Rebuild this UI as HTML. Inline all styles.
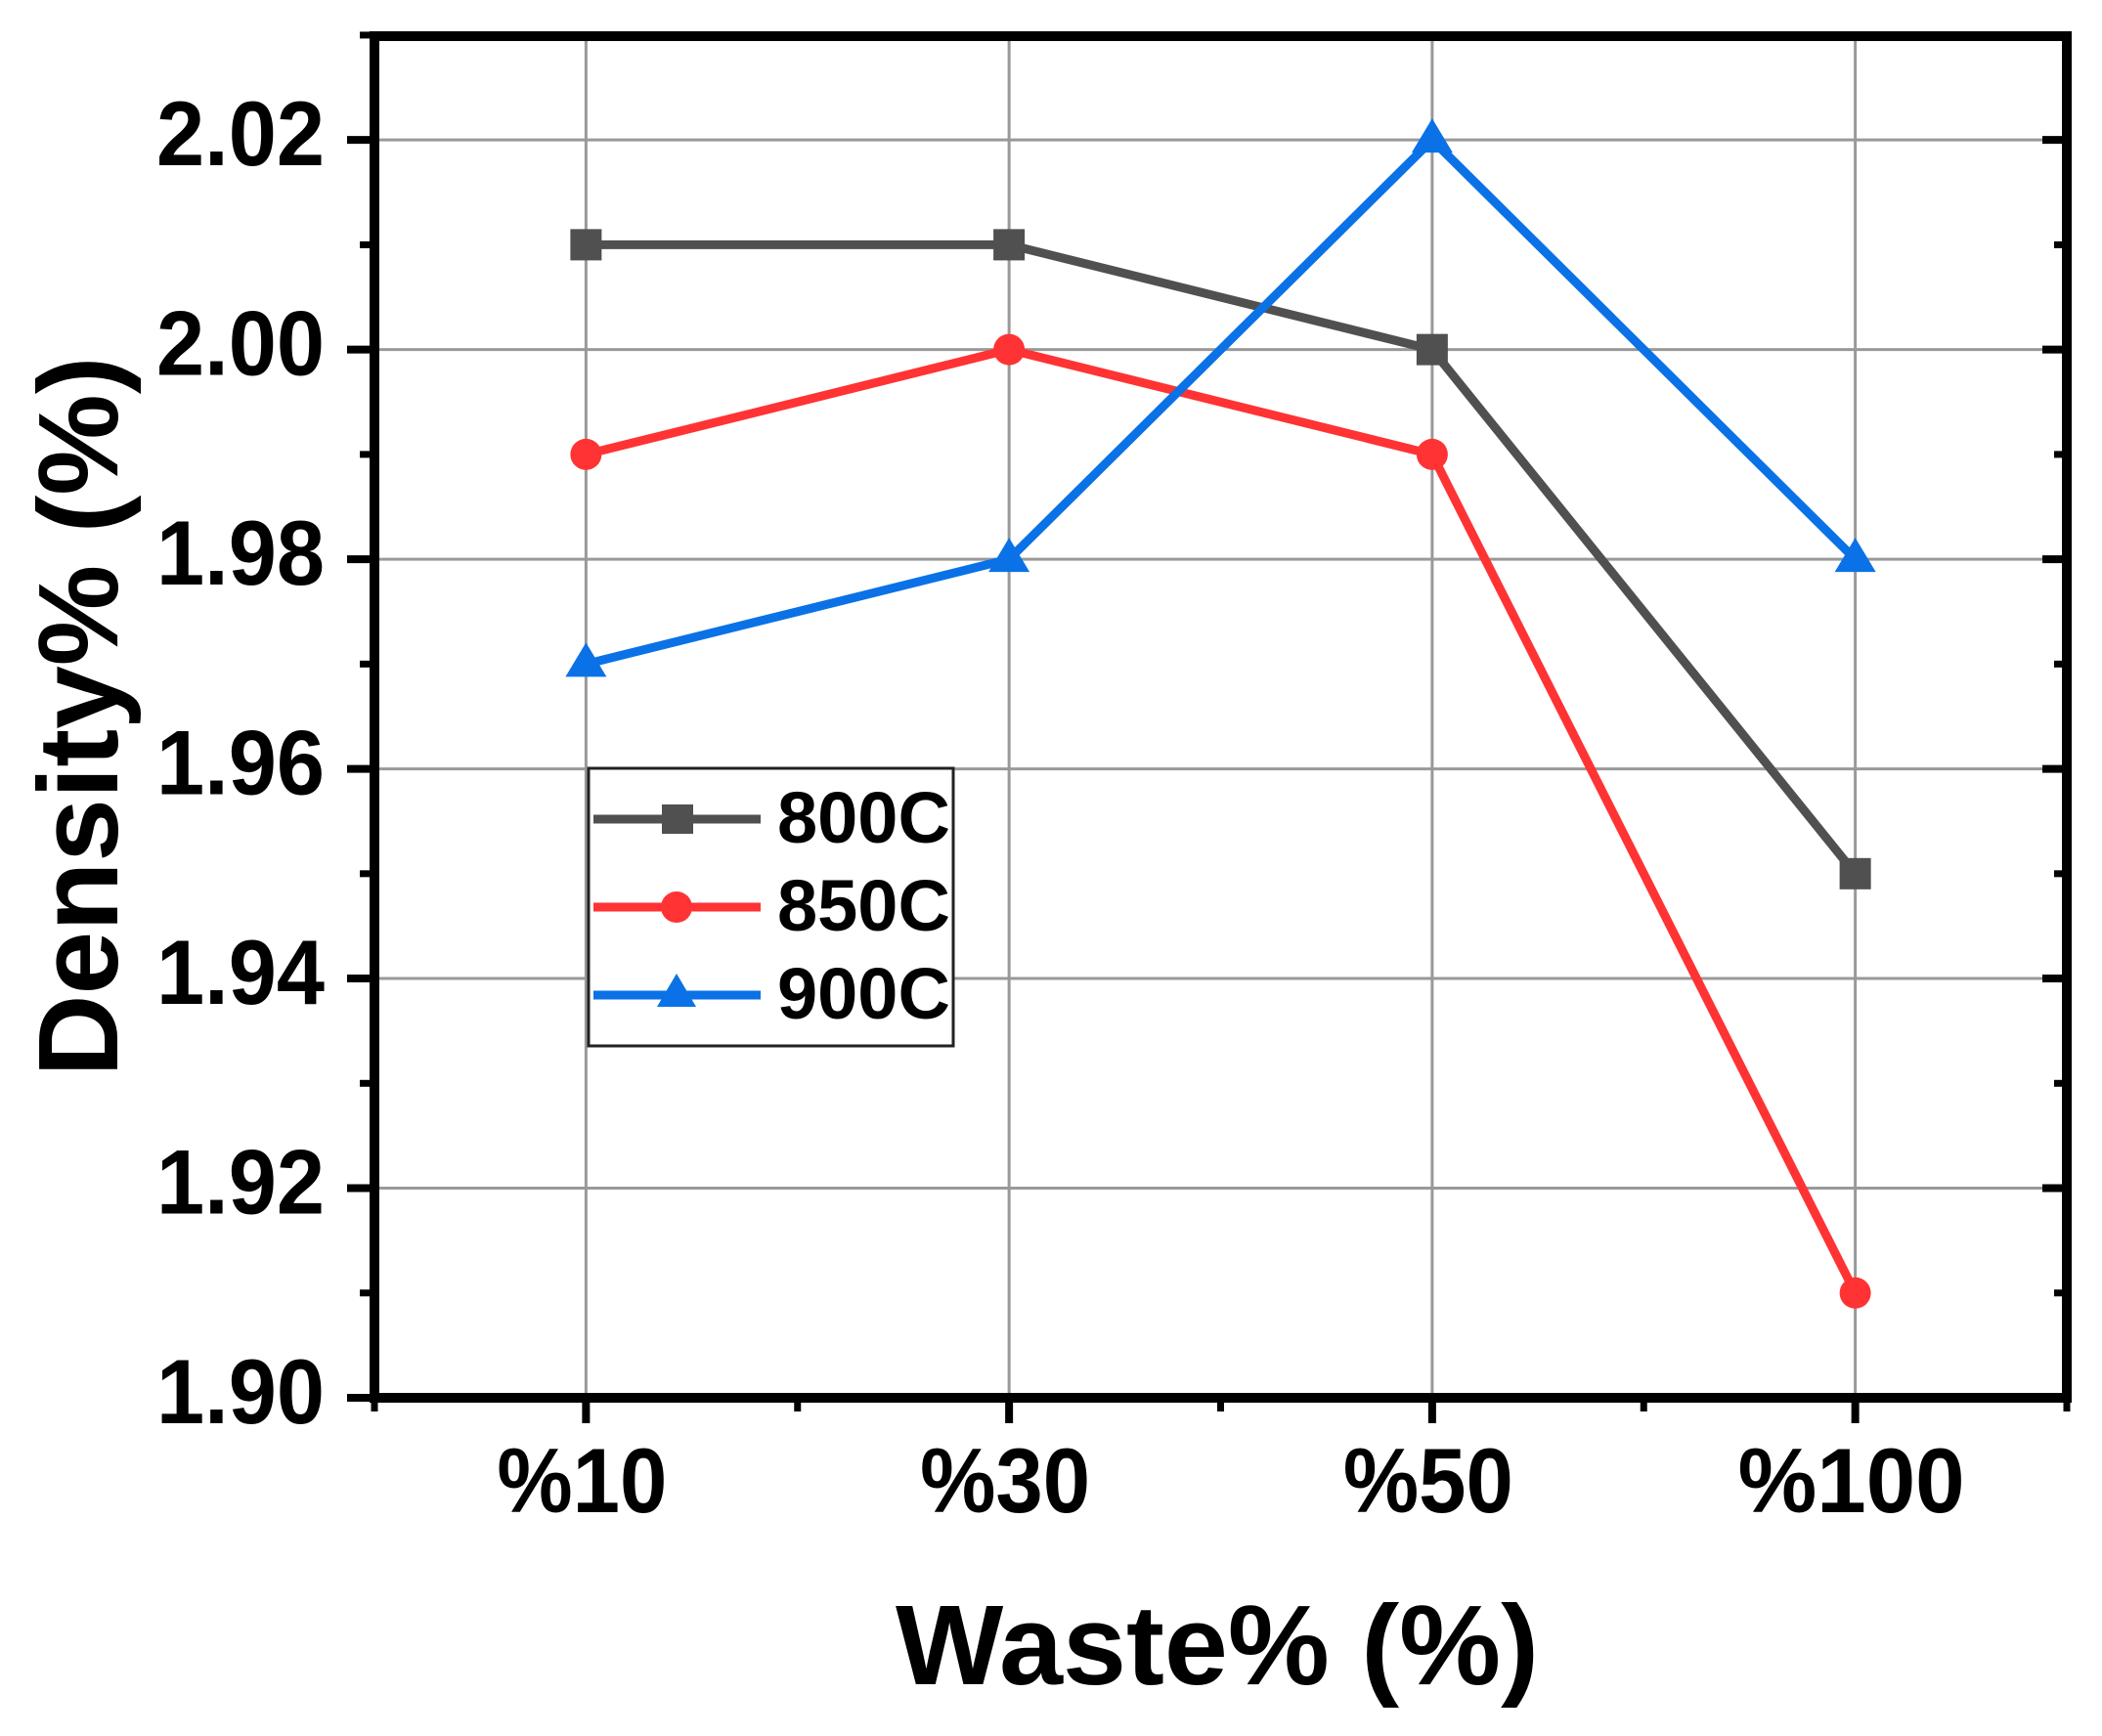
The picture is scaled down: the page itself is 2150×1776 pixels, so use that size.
<!DOCTYPE html>
<html><head><meta charset="utf-8"><style>
html,body{margin:0;padding:0;background:#fff;}
svg{display:block;font-family:"Liberation Sans",Arial,sans-serif;font-weight:bold;}
</style></head><body>
<svg id="chart" width="2150" height="1776" viewBox="0 0 2150 1776" xmlns="http://www.w3.org/2000/svg">
<g id="grid"></g>
<g id="series"></g>
<g id="axes"></g>
<text x="1245" y="1723" font-size="116" text-anchor="middle" textLength="658" lengthAdjust="spacingAndGlyphs">Waste% (%)</text>
<text transform="translate(120,733) rotate(-90)" x="0" y="0" font-size="116" text-anchor="middle" textLength="737" lengthAdjust="spacingAndGlyphs">Density% (%)</text>
<g>
<rect x="602" y="786" width="373" height="284" fill="#fff" stroke="#222" stroke-width="3"/>
<g>
<line x1="607" y1="838" x2="778" y2="838" stroke="#505050" stroke-width="9" stroke-linecap="butt"/>
<rect x="677" y="823" width="32" height="30" fill="#505050"/>
<text x="795" y="862" font-size="74">800C</text></g>
<g>
<line x1="607" y1="928" x2="778" y2="928" stroke="#ff3333" stroke-width="9" stroke-linecap="butt"/>
<circle cx="692" cy="928" r="16" fill="#ff3333"/>
<text x="795" y="952" font-size="74">850C</text></g>
<g>
<line x1="607" y1="1018" x2="778" y2="1018" stroke="#0a72e6" stroke-width="9" stroke-linecap="butt"/>
<polygon points="692,996 712,1030 672,1030" fill="#0a72e6"/>
<text x="795" y="1042" font-size="74">900C</text></g>
</g>
</svg>
<script>
const categories = ["%10","%30","%50","%100"];
const s800 = [2.01, 2.01, 2.00, 1.95];
const s850 = [1.99, 2.00, 1.99, 1.91];
const s900 = [1.97, 1.98, 2.02, 1.98];
const yTicks = ["1.90","1.92","1.94","1.96","1.98","2.00","2.02"];
const yMinor = [1.91,1.93,1.95,1.97,1.99,2.01,2.03];

const NS="http://www.w3.org/2000/svg";
const L=383,R=2114,T=37,B=1430;
const yMin=1.90, yMax=2.0299;
function yScale(v){return B-(v-yMin)/(yMax-yMin)*(B-T);}
function xScale(i){return L+(R-L)*(2*i+1)/(2*categories.length);}
function mk(tag,attrs,parent){const e=document.createElementNS(NS,tag);for(const k in attrs)e.setAttribute(k,attrs[k]);parent.appendChild(e);return e;}
const grid=document.getElementById('grid'),axes=document.getElementById('axes'),ser=document.getElementById('series');

yTicks.forEach(t=>{const v=parseFloat(t),y=yScale(v);
 if(v>yMin){const g=mk('line',{x1:L,x2:R,y1:y,y2:y,stroke:'#999','stroke-width':3},grid);
 
 }
 const tk=mk('line',{x1:L-28,x2:L,y1:y,y2:y,stroke:'#000','stroke-width':8},axes);
 
 
 const tr=mk('line',{x1:R-25,x2:R,y1:y,y2:y,stroke:'#000','stroke-width':8},axes);
 
 
 const lb=mk('text',{x:332,y:y+26,'font-size':94,'text-anchor':'end',textLength:172,lengthAdjust:'spacingAndGlyphs'},axes);
 lb.textContent=t;
 
 
});
yMinor.forEach(v=>{const y=yScale(v);
 const m=mk('line',{x1:L-15,x2:L,y1:y,y2:y,stroke:'#000','stroke-width':7},axes);
 
 
 const m2=mk('line',{x1:R-13,x2:R,y1:y,y2:y,stroke:'#000','stroke-width':7},axes);
 
 
});
categories.forEach((c,i)=>{const x=xScale(i);
 const g=mk('line',{x1:x,x2:x,y1:T,y2:B,stroke:'#999','stroke-width':3},grid);
 
 
 const tk=mk('line',{x1:x,x2:x,y1:B,y2:B+26,stroke:'#000','stroke-width':8},axes);
 
 
 const lb=mk('text',{x:x-4,y:1547,'font-size':94,'text-anchor':'middle',textLength:c.length*58,lengthAdjust:'spacingAndGlyphs'},axes);
 lb.textContent=c;
 
 
});
for(let i=0;i<=categories.length;i++){const x=L+(R-L)*i/categories.length;
 const m=mk('line',{x1:x,x2:x,y1:B,y2:B+14,stroke:'#000','stroke-width':7},axes);
 
 }
const frame=mk('rect',{x:L,y:T,width:R-L,height:B-T,fill:'none',stroke:'#000','stroke-width':10},axes);



function drawSeries(vals,color,shape,name){
 const g=mk('g',{},ser);
 
 
 const pts=vals.map((v,i)=>xScale(i)+','+yScale(v)).join(' ');
 const pl=mk('polyline',{points:pts,fill:'none',stroke:color,'stroke-width':9,'stroke-linejoin':'round'},g);
 
 
 vals.forEach((v,i)=>{const x=xScale(i),y=yScale(v);let m;
  if(shape==='sq')m=mk('rect',{x:x-16,y:y-16,width:32,height:32,fill:color},g);
  else if(shape==='c')m=mk('circle',{cx:x,cy:y,r:16,fill:color},g);
  else m=mk('polygon',{points:`${x},${y-22} ${x+21},${y+13} ${x-21},${y+13}`,fill:color},g);
  
  
 });
}
drawSeries(s800,'#505050','sq','series-800c');
drawSeries(s850,'#ff3333','c','series-850c');
drawSeries(s900,'#0a72e6','t','series-900c');
</script>
</body></html>
